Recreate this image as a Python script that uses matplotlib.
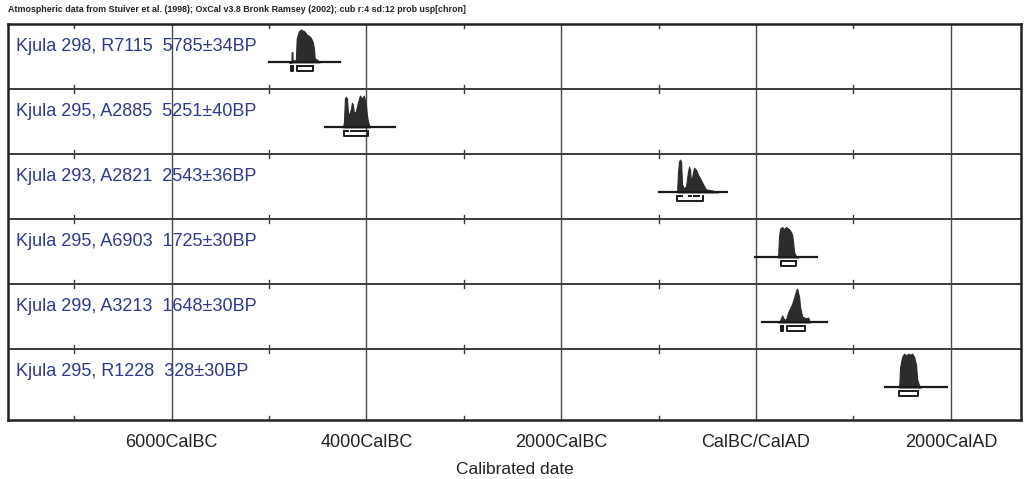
import matplotlib
matplotlib.use("Agg")
import matplotlib.pyplot as plt

plt.rcParams['font.family'] = ['Liberation Sans', 'DejaVu Sans']

# ---------------- data ----------------
labels = ["Kjula 298, R7115  5785±34BP",
          "Kjula 295, A2885  5251±40BP",
          "Kjula 293, A2821  2543±36BP",
          "Kjula 295, A6903  1725±30BP",
          "Kjula 299, A3213  1648±30BP",
          "Kjula 295, R1228  328±30BP"]

# calibrated probability curves (calendar year, relative probability)
years_1 = [-4795, -4770, -4768, -4760, -4758, -4725, -4716, -4695, -4675, -4654, -4634,
           -4613, -4593, -4572, -4552, -4541, -4531, -4500, -4480]
prob_1 = [0, 0, 0.30, 0.30, 0.06, 0.06, 0.70, 0.91, 0.97, 0.94, 0.91,
          0.82, 0.79, 0.73, 0.61, 0.45, 0.12, 0.06, 0]

years_2 = [-4242, -4231, -4221, -4211, -4200, -4190, -4180, -4159, -4149, -4139, -4129,
           -4108, -4088, -4067, -4047, -4026, -4006, -3995, -3985, -3965]
prob_2 = [0, 0.15, 0.85, 0.91, 0.85, 0.45, 0.36, 0.55, 0.73, 0.67, 0.42,
          0.48, 0.73, 0.94, 0.85, 0.94, 0.67, 0.36, 0.18, 0]

years_3 = [-811, -801, -791, -781, -770, -760, -740, -719, -699, -688, -678, -668,
           -657, -637, -616, -596, -575, -544, -514, -452, -390]
prob_3 = [0, 0.61, 0.91, 0.97, 0.91, 0.24, 0.12, 0.18, 0.61, 0.76, 0.67, 0.30,
          0.45, 0.73, 0.67, 0.52, 0.42, 0.24, 0.09, 0.06, 0]

years_4 = [226, 236, 247, 267, 288, 308, 329, 349, 370, 380, 390, 411, 431]
prob_4 = [0, 0.62, 0.85, 0.90, 0.84, 0.90, 0.86, 0.80, 0.68, 0.46, 0.16, 0.03, 0]

years_5 = [226, 247, 267, 288, 308, 329, 349, 370, 390, 411, 421, 442, 452, 473,
           493, 514, 534, 555]
prob_5 = [0, 0.06, 0.21, 0.09, 0.09, 0.30, 0.42, 0.55, 0.73, 0.94, 1.0, 0.76, 0.45,
          0.18, 0.15, 0.12, 0.15, 0]

years_6 = [1469, 1479, 1500, 1520, 1541, 1561, 1582, 1602, 1623, 1643, 1654, 1674, 1695]
prob_6 = [0, 0.61, 0.91, 1.0, 0.94, 1.0, 0.97, 1.0, 0.91, 0.67, 0.24, 0.06, 0]

curves = [(years_1, prob_1), (years_2, prob_2), (years_3, prob_3),
          (years_4, prob_4), (years_5, prob_5), (years_6, prob_6)]

# extent of the baseline under each distribution
line_start = [-5002, -4426, -996, -10, 62, 1325]
line_end = [-4272, -3708, -298, 627, 729, 1962]

# highest probability ranges
hpd68 = [[(-4705, -4560)],
         [(-4222, -4190), (-4160, -4100), (-4080, -4000)],
         [(-795, -760), (-690, -665), (-640, -590)],
         [(262, 390)],
         [(340, 440), (450, 490)],
         [(1490, 1645)]]
hpd95 = [[(-4772, -4755), (-4715, -4545)],
         [(-4235, -3980)],
         [(-810, -540)],
         [(255, 405)],
         [(260, 277), (318, 505)],
         [(1470, 1665)]]

major_ticks = [-6000, -4000, -2000, 0, 2000]
major_labels = ["6000CalBC", "4000CalBC", "2000CalBC", "CalBC/CalAD", "2000CalAD"]
minor_ticks = [-7000, -5000, -3000, -1000, 1000]

title = ("Atmospheric data from Stuiver et al. (1998); OxCal v3.8 Bronk Ramsey (2002); "
         "cub r:4 sd:12 prob usp[chron]")

# ---------------- figure ----------------
fig = plt.figure(figsize=(10.24, 4.79), dpi=100)
ax = fig.add_axes([8 / 1024, 1 - 420 / 479, 1013 / 1024, 396 / 479])
ax.set_xlim(-7680, 2720)
nrows = len(labels)
ax.set_ylim(6.09, 0)

fill_col = "#2b2d2b"
text_col = "#2c3a8e"

# grid
for t in major_ticks:
    ax.axvline(t, color="#4a4a4a", lw=1.0, zorder=1)
for r in range(1, nrows):
    ax.axhline(r, color="#3c3c3c", lw=1.4, zorder=1)
# minor ticks at row boundaries and bottom axis
for r in range(0, nrows + 1):
    yy = r if r < nrows else 6.09
    for t in minor_ticks:
        ax.plot([t, t], [yy - 0.06, min(yy + 0.06, 6.09)], color="#3c3c3c", lw=1.0, zorder=1)

base_off = 0.59
peak_h = 0.52
for i in range(nrows):
    yb = i + base_off
    xs, ps = curves[i]
    ys = [yb - p * peak_h for p in ps]
    ax.fill_between(xs, yb, ys, color=fill_col, lw=0.8, edgecolor=fill_col, zorder=3)
    ax.plot([line_start[i], line_end[i]], [yb, yb], color="#1a1a1a", lw=1.6, zorder=4)
    y1 = yb + 0.05
    y2 = yb + 0.13
    for (a, b) in hpd68[i]:
        ax.plot([a, b], [y1, y1], color="#1a1a1a", lw=1.4, zorder=4)
    for (a, b) in hpd95[i]:
        ax.plot([a, a, b, b], [y1, y2, y2, y1], color="#1a1a1a", lw=1.4, zorder=4)
    ax.text(-7600, i + 0.345, labels[i], color=text_col, fontsize=13,
            ha="left", va="center", zorder=5)

ax.set_yticks([])
ax.set_xticks(major_ticks)
ax.set_xticklabels(major_labels, fontsize=13, color="#222222")
ax.tick_params(axis="x", length=0, pad=10)
ax.set_xlabel("Calibrated date", fontsize=12.5, color="#222222", labelpad=8)
for s in ax.spines.values():
    s.set_color("#222222")
    s.set_linewidth(1.8)

fig.text(8 / 1024, 1 - 10 / 479, title, fontsize=6.4, weight="bold",
         ha="left", va="center", color="#222222")

fig.savefig("out.png", dpi=100, facecolor="white")
